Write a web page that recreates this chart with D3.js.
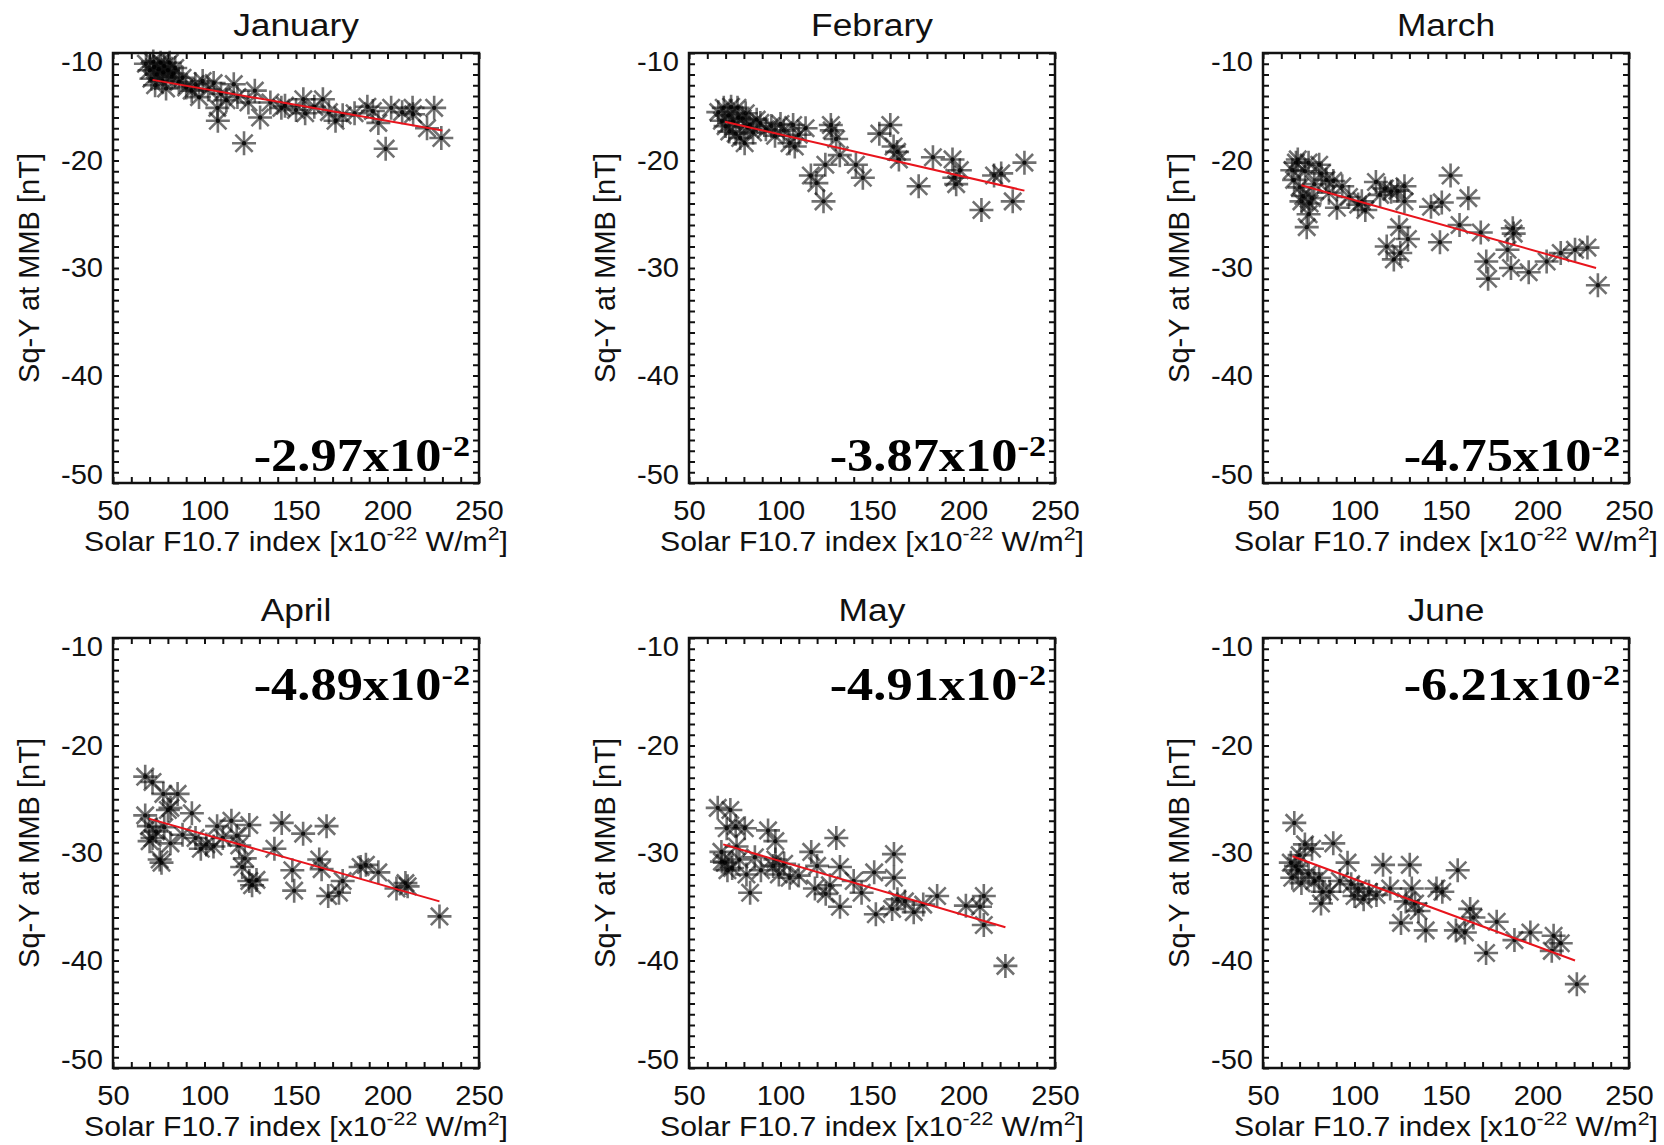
<html>
<head>
<meta charset="utf-8">
<script src="https://d3js.org/d3.v7.min.js"></script>
<style>
  body { margin: 0; background: #fff; }
  .frame { fill: none; stroke: #111; stroke-width: 2.5; }
  .ticks line { stroke: #111; stroke-width: 2; }
  .ticks .domain { stroke: none; }
  .labels .domain, .labels line { stroke: none; }
  .labels text { font-family: "Liberation Sans", Arial, sans-serif; font-size: 28px; fill: #111; }
  .title, .xtitle, .ytitle { font-family: "Liberation Sans", Arial, sans-serif; fill: #111; }
  .slope { font-family: "Liberation Serif", "Times New Roman", serif; font-weight: bold; fill: #000; }
</style>
</head>
<body>
<div id="chart"></div>
<script>
// panel titles and slope annotations
const months = ['January', 'Febrary', 'March', 'April', 'May', 'June'];
const slopes = ['-2.97', '-3.87', '-4.75', '-4.89', '-4.91', '-6.21'];
const xTicks = [50, 100, 150, 200, 250];
const yTicks = [-10, -20, -30, -40, -50];

// [F10.7, Sq-Y]
const janPts = [[68,-11.0],[70,-11.6],[71,-12.4],[72,-10.8],[72.5,-11.3],[73,-13.0],[74,-12.0],[75,-11.5],[76,-10.9],[77,-12.6],
  [77.5,-11.8],[78,-11.2],[79,-13.3],[80,-11.6],[81,-10.9],[82,-12.2],[83,-11.9],[84,-11.4],[86,-12.7],[88,-12.3],
  [90,-13.2],[93,-13.5],[95,-12.9],[97,-14.1],[99,-12.6],[102,-13.4],[105,-12.8],[107,-15.1],[107.3,-16.3],[109,-13.8],
  [112,-14.4],[116,-12.9],[118,-14.1],[121.6,-18.4],[124,-14.6],[127.5,-13.5],[130.4,-16.0],[136,-14.6],[142,-15.1],[144,-14.9],
  [150,-15.3],[154,-14.3],[155,-15.6],[160,-15.0],[164.7,-14.3],[168,-15.5],[171.6,-16.3],[175.5,-15.8],[182,-15.6],[189,-15.0],
  [192,-15.4],[195,-16.5],[199,-18.9],[202,-15.1],[208,-15.5],[213.7,-15.1],[214,-15.7],[221.6,-17.0],[225.5,-15.1],[229.4,-17.9]];
const febPts = [[66,-15.5],[68,-16.3],[69,-15.1],[70,-16.8],[71.6,-15.8],[72,-17.3],[73,-15.0],[74,-16.4],[75.5,-17.5],[76.5,-15.1],
  [77,-16.0],[78,-17.9],[79.4,-16.1],[80.4,-18.4],[81,-15.6],[82,-16.9],[83.3,-16.7],[85,-17.4],[87,-16.2],[89,-16.5],
  [92,-17.1],[95,-16.8],[97,-17.7],[100,-16.6],[101.8,-17.2],[104.9,-18.4],[106.9,-16.7],[107.8,-18.7],[110,-17.6],[113.7,-17.0],
  [116.6,-21.4],[119.6,-22.1],[123.5,-23.8],[124.5,-20.4],[127.5,-16.7],[128,-17.2],[130.4,-18.0],[132.4,-19.5],[141.2,-20.4],[145,-21.6],
  [154,-17.5],[160,-16.7],[161.8,-18.7],[163.7,-19.2],[164.7,-19.9],[175.5,-22.4],[183.3,-19.7],[194,-19.9],[195,-21.6],[196,-22.2],
  [198,-20.9],[209.8,-24.6],[216.7,-21.4],[220.6,-21.2],[226.9,-23.8],[233.3,-20.2]];
const marPts = [[66,-20.9],[67,-21.8],[68,-20.2],[69,-19.9],[70,-22.5],[71,-23.8],[72,-23.3],[73,-21.0],[73.9,-26.2],[74.9,-20.2],
  [74.9,-25.0],[75.5,-24.0],[76.8,-23.5],[78,-22.2],[80.7,-20.4],[82,-21.2],[84.6,-21.8],[86,-23.0],[88.4,-21.9],[90.4,-24.4],
  [93.3,-22.4],[97,-23.4],[102,-24.1],[104,-23.8],[105.9,-24.6],[111.7,-22.0],[114,-23.2],[116.6,-22.6],[117.6,-28.0],[120,-22.9],
  [121.5,-29.2],[123.4,-22.8],[124.4,-26.2],[125,-28.6],[127.3,-22.4],[127.3,-23.8],[129.2,-27.3],[141.8,-24.3],[146.7,-27.6],[147.7,-23.9],
  [152.5,-21.4],[157.4,-26.0],[162.2,-23.5],[169,-26.7],[172,-29.4],[173,-31.0],[183.6,-28.3],[185.5,-30.0],[186.5,-26.3],[187,-26.8],
  [195.2,-30.4],[205,-29.4],[212.7,-28.6],[220.5,-28.3],[227.3,-28.1],[233,-31.6]];
const aprPts = [[67.6,-22.9],[67.6,-26.5],[69.6,-27.5],[70,-28.9],[71.6,-23.4],[71.6,-28.6],[73.5,-28.0],[75.5,-30.6],[76.5,-30.9],[77.5,-24.5],
  [78,-27.6],[80,-26.0],[81.4,-25.8],[81.4,-29.1],[85.3,-24.5],[88,-28.3],[93.1,-26.3],[95.1,-28.6],[98,-29.6],[101,-29.2],
  [104.9,-29.4],[106.9,-27.5],[110,-28.6],[114.7,-27.0],[117.6,-28.4],[119,-29.3],[120.6,-31.3],[122,-30.5],[124.5,-27.4],[124.5,-32.6],
  [126,-33.0],[128.4,-32.5],[138.2,-29.6],[142.2,-27.2],[148,-31.6],[149,-33.5],[153.9,-28.2],[162.7,-30.6],[164,-31.5],[166.7,-27.5],
  [167.6,-34.0],[173.5,-33.7],[175.5,-32.6],[185.3,-31.3],[188.2,-31.1],[195,-31.8],[204.9,-33.3],[209.8,-32.8],[211,-33.1],[228.4,-35.9]];
const mayPts = [[65.7,-25.8],[67.7,-29.9],[68,-30.8],[69.6,-30.9],[70.6,-27.7],[71,-31.6],[72.6,-26.0],[73.6,-31.4],[75.5,-27.5],[76,-29.4],
  [77.5,-30.6],[80.5,-27.7],[81.4,-32.0],[83.4,-33.7],[86,-30.4],[89.3,-31.6],[93.2,-27.9],[96,-31.2],[97.2,-28.9],[97.2,-30.6],
  [99.1,-32.0],[102,-31.0],[105,-32.3],[110,-32.1],[116.8,-29.9],[118.8,-33.3],[120,-31.2],[124.7,-33.8],[127,-33.0],[130.5,-28.6],
  [132.5,-31.3],[132.5,-35.0],[140,-32.6],[144.3,-33.7],[151.2,-31.8],[152.1,-35.7],[162,-30.1],[162,-32.3],[161,-35.2],[163.9,-34.3],
  [168,-34.5],[172.8,-35.5],[178,-34.8],[185.6,-34.0],[201.3,-34.9],[209,-35.0],[211.1,-34.0],[211.1,-36.7],[222.9,-40.5]];
const junPts = [[65.2,-30.9],[66,-32.3],[67.1,-27.2],[68,-31.2],[69,-31.6],[70,-30.2],[71,-32.8],[72.9,-29.2],[74.9,-31.9],[76.8,-29.6],
  [78,-32.6],[80.7,-32.3],[81.7,-34.7],[82.6,-33.6],[86.5,-33.6],[88.4,-29.1],[92,-32.6],[96.2,-30.9],[98.2,-32.9],[100,-34.0],
  [102,-33.3],[105,-34.3],[107.9,-33.6],[112,-33.9],[115.6,-31.1],[119.5,-33.3],[125.4,-36.5],[128,-34.5],[130.2,-31.1],[131.3,-33.3],
  [133.1,-34.7],[135,-35.4],[138.9,-37.2],[144.8,-33.3],[148,-33.6],[156.4,-31.6],[155.4,-37.2],[160.3,-37.4],[163.2,-35.2],[165,-36.0],
  [171.9,-39.3],[177.7,-36.4],[187.4,-38.1],[196.1,-37.4],[207.8,-39.1],[208.8,-37.7],[212.7,-38.4],[221.5,-42.2]];
const allPts = [janPts, febPts, marPts, aprPts, mayPts, junPts];

// red fit line end points
const fitLines = [
  [[71.6,-12.5],[230,-17.2]],
  [[69.6,-16.4],[233.3,-22.8]],
  [[71,-22.3],[232,-30.0]],
  [[69.6,-26.8],[228.4,-34.5]],
  [[68.7,-29.2],[222.9,-36.9]],
  [[66.1,-30.3],[220.5,-40.0]]
];

const svg = d3.select('#chart').append('svg')
  .attr('width', 1664)
  .attr('height', 1145);

const colLeft = [113, 689, 1263];
const rowTop = [53, 638];
const frameW = 366, frameH = 430;

const xScale = d3.scaleLinear().domain([50, 250]).range([0, frameW]);
const yScale = d3.scaleLinear().domain([-50, -10]).range([frameH, 0]);

// widen text horizontally around its own x (the scanned figure is a bit stretched)
function stretch(sel, k) {
  sel.each(function() {
    const t = d3.select(this);
    const x = +t.attr('x') || 0;
    t.attr('transform', `translate(${x},0) scale(${k},1) translate(${-x},0)`);
  });
}

function asterisk(r) {
  const d = r * 0.72;
  const p = d3.path();
  p.moveTo(-r, 0); p.lineTo(r, 0);
  p.moveTo(0, -r); p.lineTo(0, r);
  p.moveTo(-d, -d); p.lineTo(d, d);
  p.moveTo(-d, d); p.lineTo(d, -d);
  return p.toString();
}

const plain = d => String(d);   // keep the plain hyphen minus

months.forEach((m, i) => {
  const left = colLeft[i % 3];
  const top = rowTop[Math.floor(i / 3)];
  const g = svg.append('g').attr('transform', `translate(${left},${top})`);

  // inward ticks on all four sides
  const xMinor = d3.range(50, 251, 10);
  const yMinor = d3.range(-50, -9, 1);
  g.append('g').attr('class', 'ticks').attr('transform', `translate(0,${frameH})`)
    .call(d3.axisBottom(xScale).tickValues(xMinor).tickSize(-6).tickFormat(''));
  g.append('g').attr('class', 'ticks')
    .call(d3.axisTop(xScale).tickValues(xMinor).tickSize(-6).tickFormat(''));
  g.append('g').attr('class', 'ticks')
    .call(d3.axisLeft(yScale).tickValues(yMinor).tickSize(-6).tickFormat(''));
  g.append('g').attr('class', 'ticks').attr('transform', `translate(${frameW},0)`)
    .call(d3.axisRight(yScale).tickValues(yMinor).tickSize(-6).tickFormat(''));

  // tick labels
  const xl = g.append('g').attr('class', 'labels').attr('transform', `translate(0,${frameH})`)
    .call(d3.axisBottom(xScale).tickValues(xTicks).tickSize(0).tickPadding(17).tickFormat(plain));
  stretch(xl.selectAll('text'), 1.04);
  const yl = g.append('g').attr('class', 'labels')
    .call(d3.axisLeft(yScale).tickValues(yTicks).tickSize(0).tickPadding(10).tickFormat(plain));
  yl.selectAll('text')
    .attr('dy', d => d === -10 ? '0.62em' : (d === -50 ? '0.02em' : '0.32em'));
  stretch(yl.selectAll('text'), 1.04);

  // points
  const pts = allPts[i];
  g.append('g').selectAll('path')
    .data(pts)
    .join('path')
    .attr('d', asterisk(12))
    .attr('transform', d => `translate(${xScale(d[0])},${yScale(d[1])})`)
    .attr('fill', 'none')
    .attr('stroke', '#111')
    .attr('stroke-width', 2.6)
    .attr('stroke-opacity', 0.6);
  g.append('g').selectAll('circle')
    .data(pts)
    .join('circle')
    .attr('cx', d => xScale(d[0]))
    .attr('cy', d => yScale(d[1]))
    .attr('r', 2.2)
    .attr('fill', '#000')
    .attr('opacity', 0.85);

  // fit line
  g.append('path')
    .datum(fitLines[i])
    .attr('d', d3.line().x(d => xScale(d[0])).y(d => yScale(d[1])))
    .attr('stroke', '#e8141c')
    .attr('stroke-width', 2)
    .attr('fill', 'none');

  g.append('rect').attr('class', 'frame')
    .attr('width', frameW).attr('height', frameH);

  // title
  const t = g.append('text').attr('class', 'title')
    .attr('x', frameW / 2).attr('y', -17)
    .attr('text-anchor', 'middle')
    .style('font-size', '31px')
    .text(m);
  stretch(t, 1.14);

  // x axis title
  const xt = g.append('text').attr('class', 'xtitle')
    .attr('x', frameW / 2).attr('y', frameH + 68)
    .attr('text-anchor', 'middle')
    .style('font-size', '27px');
  xt.append('tspan').text('Solar F10.7 index [x10');
  xt.append('tspan').attr('dy', -11).style('font-size', '19px').text('-22');
  xt.append('tspan').attr('dy', 11).text(' W/m');
  xt.append('tspan').attr('dy', -11).style('font-size', '19px').text('2');
  xt.append('tspan').attr('dy', 11).text(']');
  stretch(xt, 1.12);

  // y axis title
  g.append('text').attr('class', 'ytitle')
    .attr('transform', `translate(-74,${frameH / 2}) rotate(-90)`)
    .attr('text-anchor', 'middle')
    .style('font-size', '29px')
    .text('Sq-Y at MMB [nT]');

  // slope annotation: bottom right on first row, top right on second row
  const sy = i < 3 ? frameH - 12 : 62;
  const st = g.append('text').attr('class', 'slope')
    .attr('x', frameW - 9).attr('y', sy)
    .attr('text-anchor', 'end')
    .style('font-size', '46px');
  st.append('tspan').text(slopes[i] + 'x10');
  st.append('tspan').attr('dy', -15).style('font-size', '30px').text('-2');
  stretch(st, 1.14);
});
</script>
</body>
</html>
